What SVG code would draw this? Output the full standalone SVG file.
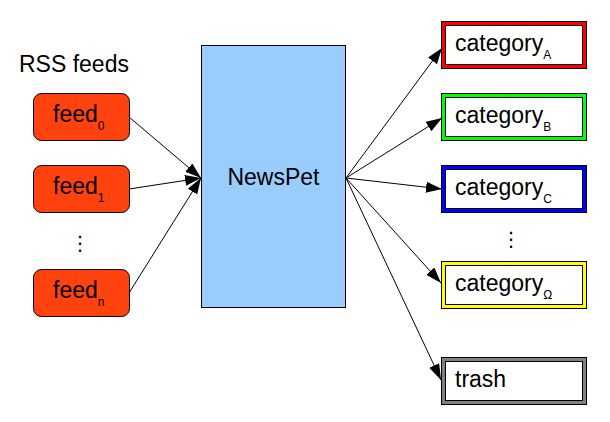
<svg xmlns="http://www.w3.org/2000/svg" width="610" height="422" viewBox="0 0 610 422">
<style>
text{font-family:"Liberation Sans",Arial,sans-serif;fill:#000}
.t{font-size:23px}
.s{font-size:12px}
.feed{fill:#ff420e;stroke:#000;stroke-width:1}
.frame{stroke:#000;stroke-width:1}
.inner{fill:#fff;stroke:#000;stroke-width:1}
.conn line{stroke:#000;stroke-width:1;marker-end:url(#ah)}
.dots{font-family:"DejaVu Sans",sans-serif;font-size:20px}
</style>
<defs>
<marker id="ah" markerUnits="userSpaceOnUse" markerWidth="18" markerHeight="12" refX="16" refY="5.5" orient="auto">
<path d="M0,0 L16,5.5 L0,11 Z" fill="#000"/>
</marker>
</defs>
<rect width="610" height="422" fill="#fff"/>
<text class="t" x="19" y="72">RSS feeds</text>
<g id="feed0"><rect class="feed" x="33.5" y="93.5" width="96" height="47" rx="8"/><text class="t" x="53" y="122">feed<tspan class="s" dy="8">0</tspan></text></g>
<g id="feed1"><rect class="feed" x="33.5" y="165.5" width="96" height="47" rx="8"/><text class="t" x="53" y="194">feed<tspan class="s" dy="8">1</tspan></text></g>
<text class="dots" x="80" y="250" text-anchor="middle">⋮</text>
<g id="feedn"><rect class="feed" x="33.5" y="269.5" width="96" height="47" rx="8"/><text class="t" x="53" y="298">feed<tspan class="s" dy="8">n</tspan></text></g>
<g id="newspet"><rect x="201.5" y="45.5" width="144" height="262" fill="#99ccff" stroke="#000"/><text class="t" x="273.5" y="185" text-anchor="middle">NewsPet</text></g>
<g id="catA"><rect class="frame" x="441.5" y="21.5" width="145" height="47" fill="#ff0000"/><rect class="inner" x="445.5" y="25.5" width="137" height="39"/><text class="t" x="455" y="51">category<tspan class="s" dy="8">A</tspan></text></g>
<g id="catB"><rect class="frame" x="441.5" y="93.5" width="145" height="47" fill="#00ff00"/><rect class="inner" x="445.5" y="97.5" width="137" height="39"/><text class="t" x="455" y="123">category<tspan class="s" dy="8">B</tspan></text></g>
<g id="catC"><rect class="frame" x="441.5" y="165.5" width="145" height="47" fill="#0000ff"/><rect class="inner" x="445.5" y="169.5" width="137" height="39"/><text class="t" x="455" y="195">category<tspan class="s" dy="8">C</tspan></text></g>
<text class="dots" x="511" y="246" text-anchor="middle">⋮</text>
<g id="catO"><rect class="frame" x="441.5" y="261.5" width="145" height="47" fill="#ffff00"/><rect class="inner" x="445.5" y="265.5" width="137" height="39"/><text class="t" x="455" y="291">category<tspan class="s" dy="8">Ω</tspan></text></g>
<g id="trash"><rect class="frame" x="441.5" y="357.5" width="145" height="47" fill="#808080"/><rect class="inner" x="445.5" y="361.5" width="137" height="39"/><text class="t" x="455" y="387">trash</text></g>
<g id="connectors" class="conn">
<line x1="129" y1="117" x2="201" y2="178"/>
<line x1="129" y1="189" x2="201" y2="178"/>
<line x1="129" y1="293" x2="201" y2="178"/>
<line x1="346" y1="178" x2="442" y2="48"/>
<line x1="346" y1="178" x2="442" y2="118"/>
<line x1="346" y1="178" x2="442" y2="189"/>
<line x1="346" y1="178" x2="441" y2="283"/>
<line x1="346" y1="178" x2="441" y2="380"/>
</g>
</svg>
